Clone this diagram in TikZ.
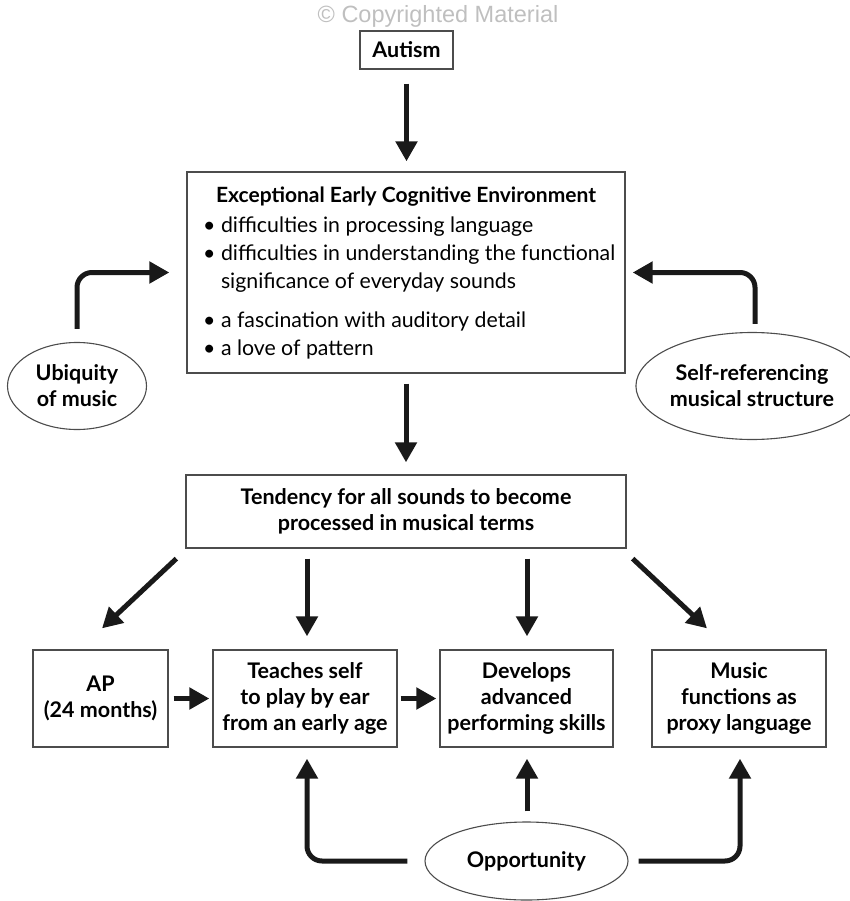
\documentclass[tikz,border=0pt]{standalone}
\usepackage{fontspec}
\setmainfont{Lato}
\newfontfamily\copyfont{Liberation Sans}
\usepackage{tikz}
\usetikzlibrary{arrows.meta, calc, shapes.geometric}

\tikzset{
	box/.style={draw=black!70, line width=1.3pt, rectangle, align=center, inner sep=0pt,
		font=\fontsize{21.5}{26}\selectfont\bfseries},
	oval/.style={draw=black!70, line width=1.1pt, ellipse, align=center, inner sep=0pt,
		font=\fontsize{21.5}{26}\selectfont\bfseries},
	arr/.style={line width=5pt, -{Triangle[length=20pt, width=21pt]}, black!90},
}

\begin{document}
\begin{tikzpicture}[x=1pt, y=-1pt]

	\useasboundingbox (0,0) rectangle (849,901);

	\node[font=\copyfont\fontsize{23.5}{26}\selectfont, text=black!25] (copy) at (438,16) {\textcopyright{} Copyrighted Material};

	\node[box, minimum width=93, minimum height=38] (A) at (406.5,50) {Autism};

	\node[box, minimum width=438, minimum height=201] (E) at (406,272.5) {};
	\node[anchor=base, font=\fontsize{21}{26}\selectfont\bfseries] (Eh) at (406,203) {Exceptional Early Cognitive Environment};
	\node[anchor=north west, inner sep=0pt, align=left, font=\fontsize{21.3}{28}\selectfont] (El) at (203,217)
		{\textbullet\ difficulties in processing language\\
		 \textbullet\ difficulties in understanding the functional\\
		 \phantom{\textbullet\ }significance of everyday sounds\\[11pt]
		 \textbullet\ a fascination with auditory detail\\
		 \textbullet\ a love of pattern};

	\node[oval, minimum width=139, minimum height=87] (U) at (77,386) {Ubiquity\\of music};
	\node[oval, minimum width=192, minimum height=107] (S) at (752,386) {Self-referencing\\musical structure};

	\node[box, minimum width=440, minimum height=73] (T) at (406,511.5) {Tendency for all sounds to become\\processed in musical terms};

	\node[box, minimum width=135, minimum height=97] (AP) at (100.5,698.5) {AP\\(24 months)};
	\node[box, minimum width=184, minimum height=97] (P) at (305,698.5) {Teaches self\\to play by ear\\from an early age};
	\node[box, minimum width=173, minimum height=97] (D) at (526.5,698.5) {Develops\\advanced\\performing skills};
	\node[box, minimum width=174, minimum height=97] (M) at (739,698.5) {Music\\functions as\\proxy language};

	\node[oval, minimum width=203, minimum height=78] (O) at (526.5,861) {Opportunity};

	\draw[arr, shorten <=14pt, shorten >=10pt] (A.south) -- (A.south |- E.north);
	\draw[arr, shorten <=10pt, shorten >=12pt] (E.south) -- (E.south |- T.north);

	\draw[arr, rounded corners=15pt] ($(U.north)+(0,-13)$) |- ($(E.west)+(-17,0)$);
	\draw[arr, rounded corners=15pt] ($(S.north)+(3,-8)$) |- ($(E.east)+(7,0)$);

	\draw[arr] ($(T.south west)+(-9,10)$) -- ($(AP.north)+(1.5,-21)$);
	\draw[arr] ($(T.south -| P.north)+(2,10)$) -- ($(P.north)+(2,-13)$);
	\draw[arr] ($(T.south -| D.north)+(0.5,10)$) -- ($(D.north)+(0.5,-13)$);
	\draw[arr] ($(T.south east)+(6,10)$) -- ($(M.north)+(-32,-21)$);

	\draw[arr, shorten <=5pt, shorten >=3pt] (AP.east) -- (P.west);
	\draw[arr, shorten <=3pt, shorten >=3pt] (P.east) -- (D.west);

	\draw[arr, rounded corners=15pt] ($(O.west)+(-17,0)$) -| ($(P.south)+(2,11)$);
	\draw[arr] ($(O.north)+(0.5,-10)$) -- ($(D.south)+(0.5,11)$);
	\draw[arr, rounded corners=15pt] ($(O.east)+(10,0)$) -| ($(M.south)+(1,11)$);

\end{tikzpicture}
\end{document}
